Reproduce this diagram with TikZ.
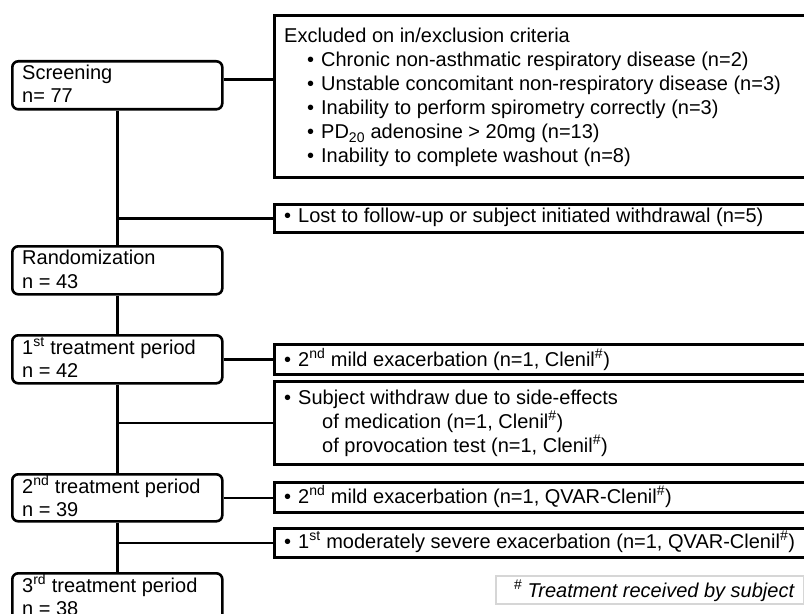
\documentclass[tikz,border=0pt]{standalone}
\usepackage{fontspec}
\setmainfont{Liberation Sans}
\newcommand\myfs{\fontsize{20bp}{24bp}\selectfont}
\newcommand\bul{\makebox[14bp][l]{•}}
\begin{document}
\begin{tikzpicture}[x=1bp,y=-1bp,
  mainbox/.style={draw, line width=2.6bp, rounded corners=6bp, inner sep=0pt, anchor=north west, minimum width=210bp},
  sidebox/.style={draw, line width=2.6bp, inner sep=0pt, anchor=north west, minimum width=547bp},
  notebox/.style={draw=black!16, line width=2bp, inner sep=0pt, anchor=north west},
  conn/.style={line width=2.6bp},
  txt/.style={anchor=base west, inner sep=0pt, font=\myfs},
]
\useasboundingbox (0,0) rectangle (804,614);
\clip (0,0) rectangle (804,614);
% main boxes
\node[mainbox, minimum height=48bp] (scr) at (11,60) {};
\node[mainbox, minimum height=48bp] (rand) at (11,245) {};
\node[mainbox, minimum height=48bp] (t1) at (11,334) {};
\node[mainbox, minimum height=47bp] (t2) at (11,473) {};
\node[mainbox, minimum height=48bp] (t3) at (11,572) {};
% side boxes
\node[sidebox, minimum height=162bp] (excl) at (273,14) {};
\node[sidebox, minimum height=28bp] (lost) at (273,203) {};
\node[sidebox, minimum height=30bp] (mild1) at (273,343) {};
\node[sidebox, minimum height=83bp] (wd) at (273,380) {};
\node[sidebox, minimum height=30bp] (qvar) at (273,481) {};
\node[sidebox, minimum height=29bp] (mod) at (273,527) {};
\node[notebox, minimum width=308bp, minimum height=28bp] (note) at (495,575) {};
% trunk
\draw[conn] (scr.south) -- (rand.north);
\draw[conn] (rand.south) -- (t1.north);
\draw[conn] (t1.south) -- (t2.north);
\draw[conn] (t2.south) -- (t3.north);
% branches
\draw[conn] ([yshift=6bp]scr.east) -- ([yshift=6bp]scr.east -| excl.west);
\draw[conn] (scr.south |- lost.west) -- (lost.west);
\draw[conn] (t1.east) -- (t1.east -| mild1.west);
\draw[conn] (t1.south |- wd.west) -- (wd.west);
\draw[conn] (t2.east) -- (t2.east -| qvar.west);
\draw[conn] (t2.south |- mod.west) -- (mod.west);
% main texts
\node[txt] (scr1) at (22,80) {Screening};
\node[txt] (scr2) at (22,103) {n= 77};
\node[txt] (rand1) at (22,264) {Randomization};
\node[txt] (rand2) at (22,288) {n = 43};
\node[txt] (t11) at (22,354) {1\textsuperscript{st} treatment period};
\node[txt] (t12) at (22,377) {n = 42};
\node[txt] (t21) at (22,493) {2\textsuperscript{nd} treatment period};
\node[txt] (t22) at (22,516) {n = 39};
\node[txt] (t31) at (22,592) {3\textsuperscript{rd} treatment period};
\node[txt] (t32) at (22,615) {n = 38};
% exclusion texts
\node[txt] (ex0) at (284,43) {Excluded on in/exclusion criteria};
\node[txt] (ex1) at (307,67) {\bul Chronic non-asthmatic respiratory disease (n=2)};
\node[txt] (ex2) at (307,91) {\bul Unstable concomitant non-respiratory disease (n=3)};
\node[txt] (ex3) at (307,115) {\bul Inability to perform spirometry correctly (n=3)};
\node[txt] (ex4) at (307,139) {\bul PD\textsubscript{20} adenosine > 20mg (n=13)};
\node[txt] (ex5) at (307,163) {\bul Inability to complete washout (n=8)};
% other side texts
\node[txt] (lostt) at (284,223) {\bul Lost to follow-up or subject initiated withdrawal (n=5)};
\node[txt] (mild1t) at (284,366) {\bul 2\textsuperscript{nd} mild exacerbation (n=1, Clenil\textsuperscript{\#})};
\node[txt] (wd1) at (284,404) {\bul Subject withdraw due to side-effects};
\node[txt] (wd2) at (322,428) {of medication (n=1, Clenil\textsuperscript{\#})};
\node[txt] (wd3) at (322,452) {of provocation test (n=1, Clenil\textsuperscript{\#})};
\node[txt] (qvart) at (284,503) {\bul 2\textsuperscript{nd} mild exacerbation (n=1, QVAR-Clenil\textsuperscript{\#})};
\node[txt] (modt) at (284,548) {\bul 1\textsuperscript{st} moderately severe exacerbation (n=1, QVAR-Clenil\textsuperscript{\#})};
\node[txt, anchor=base] (notet) at (654,597) {\itshape\textsuperscript{\#} Treatment received by subject};
\end{tikzpicture}
\end{document}
